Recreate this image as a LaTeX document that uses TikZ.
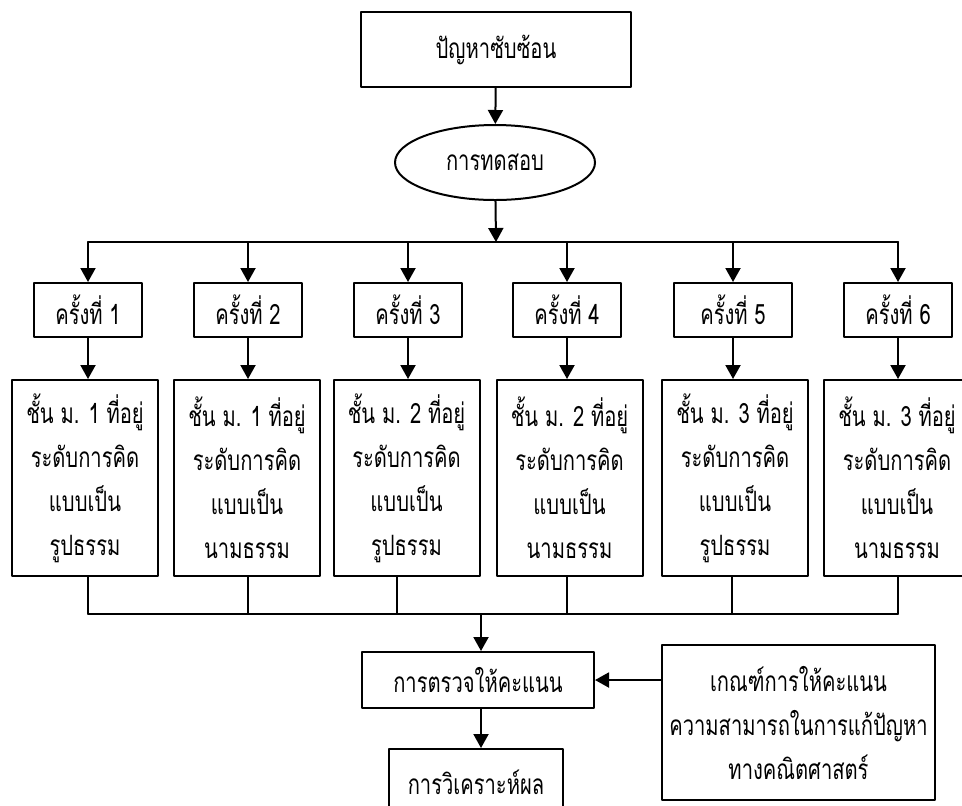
\documentclass[tikz,border=0pt]{standalone}
\usepackage{fontspec}
\setmainfont[Script=Thai,FakeStretch=0.72]{Loma}
\usetikzlibrary{arrows.meta,shapes.geometric}

\tikzset{
  box/.style={draw,line width=1pt,rectangle,inner sep=0pt,align=center,
    font=\fontsize{14}{22}\selectfont},
  roundbox/.style={box,ellipse},
  thin/.style={line width=0.7pt}
}

\begin{document}
\begin{tikzpicture}[line cap=round,line join=round,>={Triangle[length=7pt,width=7.5pt]},x=0.5pt,y=-0.5pt]
			\useasboundingbox (0,0) rectangle (962,805);
			\clip (0,0) rectangle (962,805);
			% top part
			\node[box,minimum width=135pt,minimum height=37.5pt] (problem) at (496,49.5) {ปัญหาซับซ้อน};
			\node[roundbox,minimum width=100pt,minimum height=37.5pt] (test) at (495,162.5) {การทดสอบ};
			\coordinate (busT) at (496,242);
			\coordinate (busTL) at (88,242);
			\coordinate (busTR) at (898,242);
			\draw [line width=1pt,->] (problem) -- (test);
			\draw [line width=1pt,->] (test) -- (busT);
			\draw [line width=1pt] (busTL) -- (busTR);
			% rounds
			\node[box,minimum width=54pt,minimum height=27pt] (k1) at (88,310) {ครั้งที่ 1};
			\node[box,minimum width=54pt,minimum height=27pt] (k2) at (248,310) {ครั้งที่ 2};
			\node[box,minimum width=54pt,minimum height=27pt] (k3) at (408,310) {ครั้งที่ 3};
			\node[box,minimum width=54pt,minimum height=27pt] (k4) at (567,310) {ครั้งที่ 4};
			\node[box,minimum width=59pt,minimum height=27pt] (k5) at (733,310) {ครั้งที่ 5};
			\node[box,minimum width=54pt,minimum height=27pt] (k6) at (898,310) {ครั้งที่ 6};
			\draw [line width=1pt,->] (k1 |- busT) -- (k1);
			\draw [line width=1pt,->] (k2 |- busT) -- (k2);
			\draw [line width=1pt,->] (k3 |- busT) -- (k3);
			\draw [line width=1pt,->] (k4 |- busT) -- (k4);
			\draw [line width=1pt,->] (k5 |- busT) -- (k5);
			\draw [line width=1pt,->] (k6 |- busT) -- (k6);
			% groups
			\node[box,minimum width=73pt,minimum height=98pt] (t1) at (85,478) {ชั้น ม. 1 ที่อยู่\\ระดับการคิด\\แบบเป็น\\รูปธรรม};
			\node[box,minimum width=73pt,minimum height=98pt] (t2) at (247,478) {ชั้น ม. 1 ที่อยู่\\ระดับการคิด\\แบบเป็น\\นามธรรม};
			\node[box,minimum width=73pt,minimum height=98pt] (t3) at (406.5,478) {ชั้น ม. 2 ที่อยู่\\ระดับการคิด\\แบบเป็น\\รูปธรรม};
			\node[box,minimum width=73pt,minimum height=98pt] (t4) at (569.5,478) {ชั้น ม. 2 ที่อยู่\\ระดับการคิด\\แบบเป็น\\นามธรรม};
			\node[box,minimum width=73pt,minimum height=98pt] (t5) at (735,478) {ชั้น ม. 3 ที่อยู่\\ระดับการคิด\\แบบเป็น\\รูปธรรม};
			\node[box,minimum width=73pt,minimum height=98pt] (t6) at (897,478) {ชั้น ม. 3 ที่อยู่\\ระดับการคิด\\แบบเป็น\\นามธรรม};
			\draw [line width=1pt,->] (k1) -- (k1 |- t1.north);
			\draw [line width=1pt,->] (k2) -- (k2 |- t2.north);
			\draw [line width=1pt,->] (k3) -- (k3 |- t3.north);
			\draw [line width=1pt,->] (k4) -- (k4 |- t4.north);
			\draw [line width=1pt,->] (k5) -- (k5 |- t5.north);
			\draw [line width=1pt,->] (k6) -- (k6 |- t6.north);
			% lower bus
			\coordinate (b1) at (88,614);
			\coordinate (b2) at (248,614);
			\coordinate (b3) at (397,614);
			\coordinate (b4) at (567,614);
			\coordinate (b5) at (732,614);
			\coordinate (b6) at (898,614);
			\coordinate (busB) at (481,614);
			\draw [thin] (t1.south -| b1) -- (b1);
			\draw [thin] (t2.south -| b2) -- (b2);
			\draw [thin] (t3.south -| b3) -- (b3);
			\draw [thin] (t4.south -| b4) -- (b4);
			\draw [thin] (t5.south -| b5) -- (b5);
			\draw [thin] (t6.south -| b6) -- (b6);
			\draw [thin] (b1) -- (b6);
			% scoring
			\node[box,minimum width=116pt,minimum height=28pt] (score) at (478,680) {การตรวจให้คะแนน};
			\node[box,minimum width=87pt,minimum height=33pt] (result) at (476,782) {การวิเคราะห์ผล};
			\node[box,minimum width=136.5pt,minimum height=77.5pt] (rubric) at (798.5,722.5) {เกณฑ์การให้คะแนน\\ความสามารถในการแก้ปัญหา\\ทางคณิตศาสตร์};
			\draw [line width=1pt,->] (busB) -- (busB |- score.north);
			\draw [line width=1pt,->] (score.south -| busB) -- (busB |- result.north);
			\draw [line width=1pt,->] (rubric.west |- score) -- (score.east);
		\end{tikzpicture}
\end{document}
